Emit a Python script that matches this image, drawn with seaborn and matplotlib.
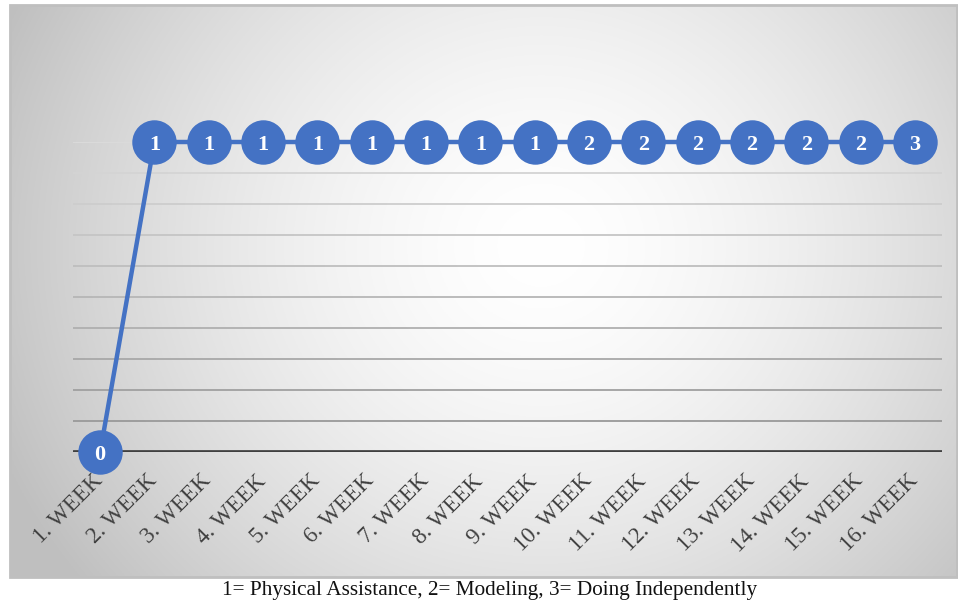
import numpy as np
import pandas as pd
import matplotlib
matplotlib.use("Agg")
import matplotlib.pyplot as plt
import matplotlib.transforms as mtransforms
import seaborn as sns
from matplotlib.patches import Rectangle

weeks = ["1. WEEK", "2. WEEK", "3. WEEK", "4. WEEK", "5. WEEK", "6. WEEK", "7. WEEK",
         "8. WEEK", "9. WEEK", "10. WEEK", "11. WEEK", "12. WEEK", "13. WEEK",
         "14. WEEK", "15. WEEK", "16. WEEK"]
plotted = [0, 1, 1, 1, 1, 1, 1, 1, 1, 1, 1, 1, 1, 1, 1, 1]
labels = [0, 1, 1, 1, 1, 1, 1, 1, 1, 2, 2, 2, 2, 2, 2, 3]
caption = "1= Physical Assistance, 2= Modeling, 3= Doing Independently"

df = pd.DataFrame({"week": weeks, "value": plotted, "label": labels})

sns.set_theme(style="white")
plt.rcParams["font.family"] = ["Liberation Serif", "DejaVu Serif"]

W, H = 958, 605
fig = plt.figure(figsize=(W / 100, H / 100), dpi=100)
fig.patch.set_facecolor("white")

# chart area with radial gradient
cx0, cx1 = 10 / W, 957 / W
cy0, cy1 = 1 - 577 / H, 1 - 5 / H
bg = fig.add_axes([cx0, cy0, cx1 - cx0, cy1 - cy0], zorder=0)
ny, nx = 300, 480
yy, xx = np.mgrid[0:ny, 0:nx]
xc, yc = nx * 0.56, ny * 0.42
r = np.sqrt(((xx - xc) / (nx * 0.62)) ** 2 + ((yy - yc) / (ny * 0.95)) ** 2)
r = np.clip(r, 0, 1)
shade = 1.0 - 0.25 * r ** 1.6
img = np.dstack([shade, shade, shade])
bg.imshow(img, aspect="auto", extent=[0, 1, 0, 1], origin="upper")
bg.set_xlim(0, 1)
bg.set_ylim(0, 1)
bg.axis("off")
bg.add_patch(Rectangle((0, 0), 1, 1, transform=bg.transAxes, fill=False,
                       edgecolor="#bfbfbf", linewidth=2, clip_on=False))

ax = fig.add_axes([73 / W, 1 - 452 / H, 869 / W, 310 / H], zorder=1)
ax.patch.set_alpha(0)

sns.lineplot(data=df, x="week", y="value", sort=False, ax=ax, color="#4472c4",
             linewidth=3.2, marker="o", markersize=32, markeredgewidth=0,
             zorder=5, clip_on=False)
for line in ax.lines:
    line.set_clip_on(False)

ax.set_xlim(-0.5, len(weeks) - 0.5)
ax.set_ylim(0, 1)
ticks = np.round(np.arange(0.1, 1.01, 0.1), 2)
n = len(ticks)
for i, t in enumerate(ticks):
    f = i / (n - 1)
    g = 0.60 + (0.86 - 0.60) * f
    ax.axhline(t, color=(g, g, g), linewidth=1.3, zorder=1)
ax.axhline(0, color="#404040", linewidth=3.4, zorder=2)

for s in ax.spines.values():
    s.set_visible(False)
ax.set_yticks([])
ax.set_xlabel("")
ax.set_ylabel("")
ax.tick_params(axis="x", length=0, pad=9)
ax.set_xticks(range(len(weeks)))
ax.set_xticklabels(weeks, rotation=45, ha="right", va="top", rotation_mode="anchor",
                   fontsize=16.5, color="#404040")
offset = mtransforms.ScaledTranslation(-8 / 100, -6 / 100, fig.dpi_scale_trans)
for lbl in ax.get_xticklabels():
    lbl.set_transform(lbl.get_transform() + offset)

for i, (v, lab) in enumerate(zip(df["value"], df["label"])):
    ax.text(i, v, str(lab), ha="center", va="center_baseline", color="white",
            fontsize=16, fontweight="bold", zorder=10)

fig.text(490 / W, 1 - 591 / H, caption, ha="center", va="center",
         fontsize=15.3, color="#111111")

fig.savefig("out.png", dpi=100)
